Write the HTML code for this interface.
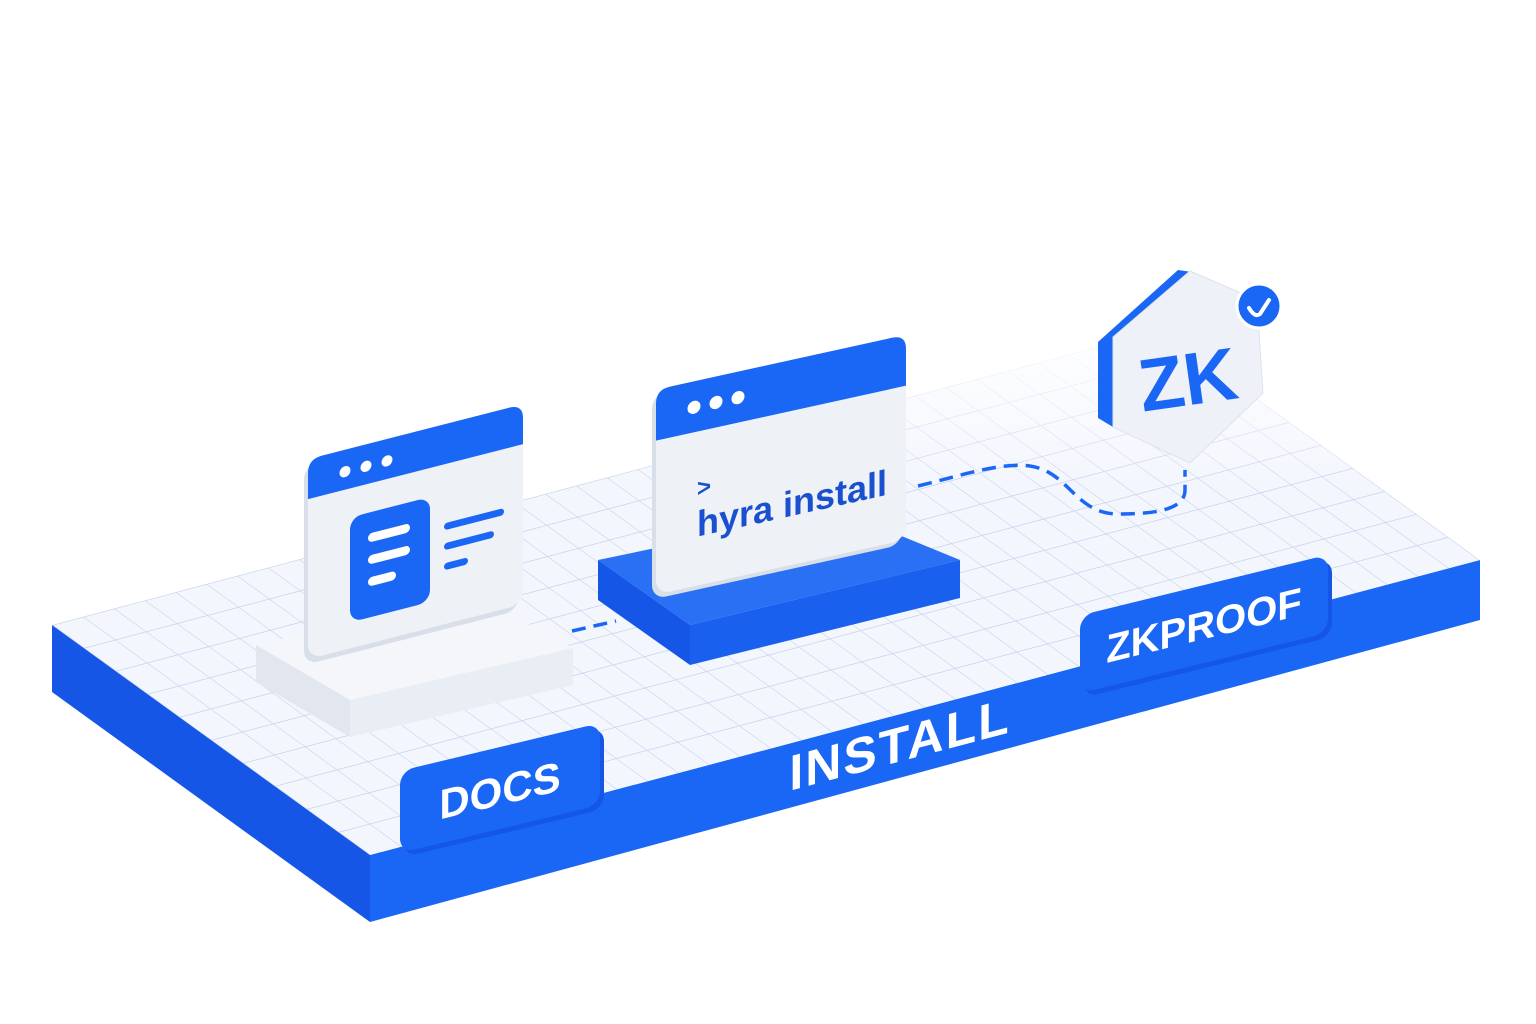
<!DOCTYPE html>
<html><head><meta charset="utf-8"><style>
html,body{margin:0;padding:0;background:#fff;}
svg{display:block}
text{font-family:"Liberation Sans","DejaVu Sans",sans-serif;}
</style></head><body>
<svg width="1536" height="1024" viewBox="0 0 1536 1024" xmlns="http://www.w3.org/2000/svg">
<defs>
<pattern id="grid" patternUnits="userSpaceOnUse" width="30" height="30" patternTransform="matrix(1.027 -0.273 1.06 0.767 52 625)">
<rect width="30" height="30" fill="#f3f6fd"/>
<path d="M0 0H30M0 0V30" stroke="#c3cfea" stroke-width="1.3" fill="none"/>
</pattern>
<linearGradient id="fade" x1="0" y1="0" x2="0" y2="1">
<stop offset="0" stop-color="#fff" stop-opacity="1"/>
<stop offset="0.3" stop-color="#fff" stop-opacity="0"/>
</linearGradient>
</defs>

<!-- platform -->
<polygon points="52,625 370,855 370,922 52,692" fill="#1556e6"/>
<polygon points="370,855 1480,560 1480,620 370,922" fill="#1a66f5"/>
<polygon points="52,625 1162,330 1480,560 370,855" fill="url(#grid)"/>
<polygon points="52,625 1162,330 1480,560 370,855" fill="url(#fade)"/>

<!-- docs slab -->
<polygon points="256,645 480,598 573,648 350,700" fill="#f4f6fa"/>
<polygon points="256,645 350,700 350,737 256,682" fill="#e2e7ef"/>
<polygon points="350,700 573,648 573,685 350,737" fill="#e9edf4"/>

<!-- dashed connectors -->
<path d="M572,631 L616,621" stroke="#1a66f5" stroke-width="3.5" stroke-dasharray="14,8" fill="none"/>
<path d="M918,486 C960,476 1000,462 1030,466 C1070,472 1075,515 1120,514 C1160,514 1185,508 1185,490 L1185,470" stroke="#1a66f5" stroke-width="3.5" stroke-dasharray="14,8" fill="none"/>

<!-- docs window -->
<g transform="matrix(1 -0.256 0 1 0 0)">
<rect x="308" y="540" width="215" height="200" rx="14" fill="#d9dfe9" transform="translate(-4,3)"/>
<rect x="308" y="538" width="215" height="200" rx="14" fill="#eef1f6"/>
<path d="M322,538 H509 Q523,538 523,552 V578 H308 V552 Q308,538 322,538Z" fill="#1a66f5"/>
<circle cx="345" cy="560" r="5.5" fill="#fff"/>
<circle cx="366" cy="560" r="5.5" fill="#fff"/>
<circle cx="387" cy="560" r="5.5" fill="#fff"/>
<rect x="350" y="607" width="80" height="105" rx="12" fill="#1a66f5"/>
<rect x="368" y="628" width="42" height="9" rx="4.5" fill="#fff"/>
<rect x="368" y="650" width="42" height="9" rx="4.5" fill="#fff"/>
<rect x="368" y="672" width="28" height="9" rx="4.5" fill="#fff"/>
<rect x="444" y="637" width="60" height="7" rx="3.5" fill="#1a66f5"/>
<rect x="444" y="657" width="50" height="7" rx="3.5" fill="#1a66f5"/>
<rect x="444" y="677" width="24" height="7" rx="3.5" fill="#1a66f5"/>
</g>

<!-- install base -->
<polygon points="598,560 838,510 960,560 690,625" fill="#2a70f5"/>
<polygon points="598,560 690,625 690,665 598,600" fill="#1556e6"/>
<polygon points="690,625 960,560 960,598 690,665" fill="#1a60ee"/>

<!-- install window -->
<g transform="matrix(1 -0.22 0 1 0 0)">
<rect x="656" y="535" width="250" height="205" rx="14" fill="#d9dfe9" transform="translate(-4,3)"/>
<rect x="656" y="534" width="250" height="205" rx="14" fill="#eef1f6"/>
<path d="M670,534 H892 Q906,534 906,548 V585 H656 V548 Q656,534 670,534Z" fill="#1a66f5"/>
<circle cx="694" cy="560" r="6.5" fill="#fff"/>
<circle cx="716" cy="560" r="6.5" fill="#fff"/>
<circle cx="738" cy="560" r="6.5" fill="#fff"/>
<text x="697" y="650" font-size="24" font-weight="bold" fill="#1a4fd0">&gt;</text>
<text x="697" y="690" font-size="36" font-weight="bold" fill="#1a4fd0">hyra install</text>
</g>

<!-- ZK badge -->
<polygon points="1098,342 1178,270 1192,272 1113,337 1113,427 1098,418" fill="#1a66f5"/>
<polygon points="1113,337 1190,271 1257,300 1263,393 1190,463 1113,427" fill="#eef1f7" stroke="#dde3ee" stroke-width="1"/>
<text x="1188" y="405" font-size="74" font-weight="bold" fill="#1a66f5" text-anchor="middle" transform="rotate(-8 1188 380)">ZK</text>
<circle cx="1259" cy="306" r="22" fill="#1a66f5" stroke="#fff" stroke-width="3"/>
<path d="M1249,308 Q1255,318 1260,314 L1269,300" stroke="#fff" stroke-width="4" fill="none" stroke-linecap="round"/>

<!-- DOCS tab -->
<g transform="matrix(1 -0.24 0 1 0 0)">
<rect x="400" y="867" width="200" height="82" rx="14" fill="#1556e6" transform="translate(4,5)"/>
<rect x="400" y="867" width="200" height="82" rx="14" fill="#1a66f5"/>
<text x="500" y="925" font-size="42" font-weight="bold" fill="#fff" text-anchor="middle">DOCS</text>
</g>

<!-- INSTALL label -->
<g transform="matrix(1 -0.265 0 1 0 0)">
<text x="900" y="1000" font-size="50" font-weight="bold" fill="#fff" text-anchor="middle" letter-spacing="2">INSTALL</text>
</g>

<!-- ZKPROOF tab -->
<g transform="matrix(1 -0.245 0 1 0 0)">
<rect x="1080" y="880" width="248" height="78" rx="14" fill="#1556e6" transform="translate(4,5)"/>
<rect x="1080" y="880" width="248" height="78" rx="14" fill="#1a66f5"/>
<text x="1204" y="934" font-size="40" font-weight="bold" fill="#fff" text-anchor="middle">ZKPROOF</text>
</g>
</svg>
</body></html>
